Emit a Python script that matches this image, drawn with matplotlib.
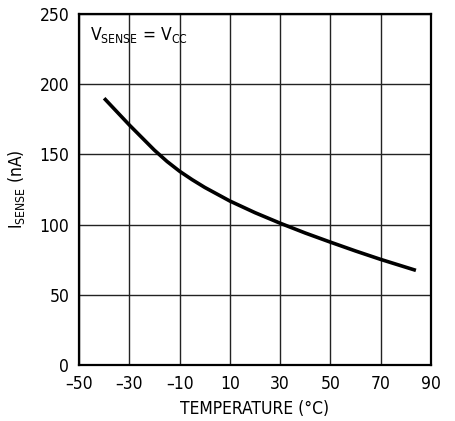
import numpy as np
import matplotlib.pyplot as plt

# datos
temperatura = [-40, -30, -20, -15, -10, -5, 0, 10, 20, 30, 40, 50, 60, 70, 84]
i_sense = [190, 171, 153, 145, 138, 132, 126.5, 116.8, 108.5, 101, 94, 87.5, 81.2, 75.2, 67.4]

x_ticks = [-50, -30, -10, 10, 30, 50, 70, 90]
x_labels = ["\u201350", "\u201330", "\u201310", "10", "30", "50", "70", "90"]
y_ticks = [0, 50, 100, 150, 200, 250]

plt.rcParams['font.family'] = ['DejaVu Sans']
plt.rcParams['font.stretch'] = 'condensed'
plt.rcParams['mathtext.fontset'] = 'custom'
plt.rcParams['mathtext.rm'] = 'DejaVu Sans:stretch=condensed'

fig = plt.figure(figsize=(4.56, 4.21), dpi=100)
ax = fig.add_axes([79 / 456, 1 - 365 / 421, 352 / 456, 351 / 421])

ax.plot(temperatura, i_sense, color="black", lw=2.6,
        solid_capstyle="butt", solid_joinstyle="round")

ax.set_xlim(-50, 90)
ax.set_ylim(0, 250)
ax.set_xticks(x_ticks)
ax.set_xticklabels(x_labels)
ax.set_yticks(y_ticks)
ax.tick_params(length=0, labelsize=12.5, pad=7)
ax.grid(True, color="#222222", lw=1.0)
ax.set_axisbelow(True)
for s in ax.spines.values():
    s.set_linewidth(1.6)

ax.set_xlabel("TEMPERATURE (\u00b0C)", fontsize=12.5, labelpad=5)
ax.set_ylabel(r"$\mathregular{I_{SENSE}}$ (nA)", fontsize=12.5, labelpad=9)
ax.text(0.03, 0.94, r"$\mathregular{V_{SENSE}}$ = $\mathregular{V_{CC}}$",
        transform=ax.transAxes, fontsize=12.5, va="center", ha="left")

fig.savefig("out.png", dpi=100)
